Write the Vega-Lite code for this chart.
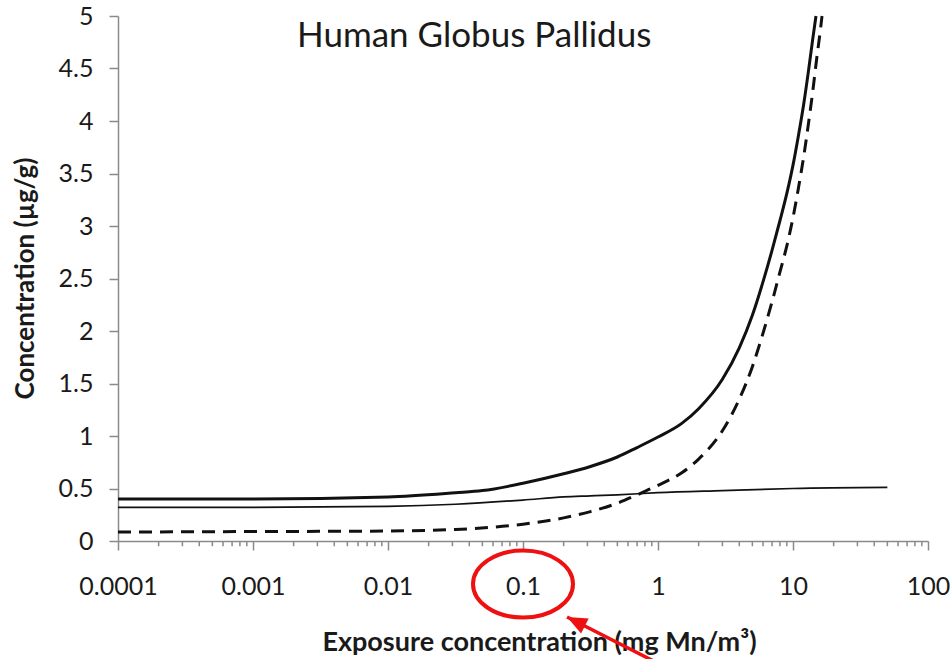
{
  "$schema": "https://vega.github.io/schema/vega-lite/v6.json",
  "width": 810,
  "height": 525,
  "autosize": {"type": "none"},
  "padding": {"left": 118, "top": 16, "right": 22, "bottom": 118},
  "background": "white",
  "title": {
    "text": "Human Globus Pallidus",
    "anchor": "start",
    "frame": "group",
    "font": "Lato",
    "fontSize": 35,
    "fontWeight": "normal",
    "color": "#1a1a1a",
    "baseline": "alphabetic",
    "dx": 179,
    "dy": 82
  },
  "config": {
    "view": {"stroke": null},
    "axis": {
      "grid": false,
      "domainColor": "#8a8a8a",
      "domainWidth": 1.5,
      "tickColor": "#8a8a8a",
      "tickWidth": 1.5,
      "labelFont": "Lato",
      "labelFontSize": 25,
      "labelColor": "#1a1a1a",
      "titleFont": "Lato",
      "titleFontWeight": "bold",
      "titleColor": "#1a1a1a"
    }
  },
  "datasets": {
    "curves": [
      {"series": "Total", "x": 0.0001, "y": 0.40},
      {"series": "Total", "x": 0.001, "y": 0.40},
      {"series": "Total", "x": 0.01, "y": 0.42},
      {"series": "Total", "x": 0.0316, "y": 0.46},
      {"series": "Total", "x": 0.05, "y": 0.48},
      {"series": "Total", "x": 0.1, "y": 0.55},
      {"series": "Total", "x": 0.2, "y": 0.64},
      {"series": "Total", "x": 0.316, "y": 0.71},
      {"series": "Total", "x": 0.5, "y": 0.80},
      {"series": "Total", "x": 0.7, "y": 0.89},
      {"series": "Total", "x": 1, "y": 0.99},
      {"series": "Total", "x": 1.5, "y": 1.12},
      {"series": "Total", "x": 2, "y": 1.26},
      {"series": "Total", "x": 3, "y": 1.54},
      {"series": "Total", "x": 4, "y": 1.84},
      {"series": "Total", "x": 5, "y": 2.15},
      {"series": "Total", "x": 6, "y": 2.47},
      {"series": "Total", "x": 7, "y": 2.77},
      {"series": "Total", "x": 8, "y": 3.05},
      {"series": "Total", "x": 9, "y": 3.31},
      {"series": "Total", "x": 10, "y": 3.58},
      {"series": "Total", "x": 11, "y": 3.87},
      {"series": "Total", "x": 12, "y": 4.16},
      {"series": "Total", "x": 13, "y": 4.47},
      {"series": "Total", "x": 14, "y": 4.78},
      {"series": "Total", "x": 14.8, "y": 5.0},
      {"series": "Free", "x": 0.0001, "y": 0.085},
      {"series": "Free", "x": 0.001, "y": 0.09},
      {"series": "Free", "x": 0.01, "y": 0.095},
      {"series": "Free", "x": 0.0316, "y": 0.11},
      {"series": "Free", "x": 0.1, "y": 0.16},
      {"series": "Free", "x": 0.2, "y": 0.22},
      {"series": "Free", "x": 0.316, "y": 0.28},
      {"series": "Free", "x": 0.5, "y": 0.36},
      {"series": "Free", "x": 0.7, "y": 0.44},
      {"series": "Free", "x": 1, "y": 0.53},
      {"series": "Free", "x": 1.5, "y": 0.65},
      {"series": "Free", "x": 2, "y": 0.78},
      {"series": "Free", "x": 3, "y": 1.05},
      {"series": "Free", "x": 4, "y": 1.35},
      {"series": "Free", "x": 5, "y": 1.66},
      {"series": "Free", "x": 6, "y": 1.98},
      {"series": "Free", "x": 7, "y": 2.28},
      {"series": "Free", "x": 8, "y": 2.56},
      {"series": "Free", "x": 9, "y": 2.81},
      {"series": "Free", "x": 10, "y": 3.08},
      {"series": "Free", "x": 11, "y": 3.37},
      {"series": "Free", "x": 12, "y": 3.66},
      {"series": "Free", "x": 13, "y": 3.97},
      {"series": "Free", "x": 14, "y": 4.28},
      {"series": "Free", "x": 15, "y": 4.6},
      {"series": "Free", "x": 16, "y": 4.88},
      {"series": "Free", "x": 16.4, "y": 5.0},
      {"series": "Bound", "x": 0.0001, "y": 0.32},
      {"series": "Bound", "x": 0.001, "y": 0.32},
      {"series": "Bound", "x": 0.01, "y": 0.33},
      {"series": "Bound", "x": 0.0316, "y": 0.35},
      {"series": "Bound", "x": 0.1, "y": 0.39},
      {"series": "Bound", "x": 0.2, "y": 0.42},
      {"series": "Bound", "x": 0.316, "y": 0.43},
      {"series": "Bound", "x": 0.5, "y": 0.44},
      {"series": "Bound", "x": 1, "y": 0.46},
      {"series": "Bound", "x": 3, "y": 0.48},
      {"series": "Bound", "x": 10, "y": 0.50},
      {"series": "Bound", "x": 50, "y": 0.51}
    ],
    "minorTicks": [
      {"x": 0.0002}, {"x": 0.0003}, {"x": 0.0004}, {"x": 0.0005}, {"x": 0.0006}, {"x": 0.0007}, {"x": 0.0008}, {"x": 0.0009},
      {"x": 0.002}, {"x": 0.003}, {"x": 0.004}, {"x": 0.005}, {"x": 0.006}, {"x": 0.007}, {"x": 0.008}, {"x": 0.009},
      {"x": 0.02}, {"x": 0.03}, {"x": 0.04}, {"x": 0.05}, {"x": 0.06}, {"x": 0.07}, {"x": 0.08}, {"x": 0.09},
      {"x": 0.2}, {"x": 0.3}, {"x": 0.4}, {"x": 0.5}, {"x": 0.6}, {"x": 0.7}, {"x": 0.8}, {"x": 0.9},
      {"x": 2}, {"x": 3}, {"x": 4}, {"x": 5}, {"x": 6}, {"x": 7}, {"x": 8}, {"x": 9},
      {"x": 20}, {"x": 30}, {"x": 40}, {"x": 50}, {"x": 60}, {"x": 70}, {"x": 80}, {"x": 90}
    ],
    "highlight": [
      {"note": "circled label", "x": 0.1, "y": -0.41}
    ],
    "arrow": [
      {"note": "pointer", "x": 0.95, "y": -1.15, "x2": 0.212, "y2": -0.724}
    ]
  },
  "layer": [
    {
      "data": {"name": "minorTicks"},
      "mark": {"type": "rule", "color": "#8a8a8a", "strokeWidth": 1.5},
      "encoding": {
        "x": {
          "field": "x",
          "type": "quantitative",
          "scale": {"type": "log", "domain": [0.0001, 100], "nice": false},
          "axis": {
            "title": "Exposure concentration (mg Mn/m³)",
            "values": [0.0001, 0.001, 0.01, 0.1, 1, 10, 100],
            "format": "~g",
            "tickSize": 9,
            "labelPadding": 24,
            "titlePadding": 30,
            "titleFontSize": 27,
            "titleX": 421,
            "labelFlush": false,
            "labelOverlap": false
          }
        },
        "y": {
          "datum": 0,
          "type": "quantitative",
          "scale": {"domain": [0, 5], "nice": false, "zero": true},
          "axis": {
            "title": "Concentration (µg/g)",
            "values": [0, 0.5, 1, 1.5, 2, 2.5, 3, 3.5, 4, 4.5, 5],
            "format": "~g",
            "tickSize": 9,
            "labelPadding": 16,
            "titleFontSize": 26,
            "titleX": -93,
            "titleY": 262,
            "titleAngle": -90,
            "titleAlign": "center",
            "titleBaseline": "middle",
            "labelFlush": false,
            "labelOverlap": false
          }
        },
        "y2": {"datum": -0.05}
      }
    },
    {
      "data": {"name": "curves"},
      "transform": [{"filter": "datum.series === 'Bound'"}],
      "mark": {"type": "line", "interpolate": "monotone", "color": "#111111", "strokeWidth": 1.7},
      "encoding": {
        "x": {"field": "x", "type": "quantitative"},
        "y": {"field": "y", "type": "quantitative"}
      }
    },
    {
      "data": {"name": "curves"},
      "transform": [{"filter": "datum.series === 'Free'"}],
      "mark": {"type": "line", "interpolate": "monotone", "color": "#111111", "strokeWidth": 3, "strokeDash": [13, 8]},
      "encoding": {
        "x": {"field": "x", "type": "quantitative"},
        "y": {"field": "y", "type": "quantitative"}
      }
    },
    {
      "data": {"name": "curves"},
      "transform": [{"filter": "datum.series === 'Total'"}],
      "mark": {"type": "line", "interpolate": "monotone", "color": "#111111", "strokeWidth": 3},
      "encoding": {
        "x": {"field": "x", "type": "quantitative"},
        "y": {"field": "y", "type": "quantitative"}
      }
    },
    {
      "data": {"name": "highlight"},
      "mark": {
        "type": "point",
        "shape": "M -1 0 A 1 0.67 0 1 1 1 0 A 1 0.67 0 1 1 -1 0 Z",
        "size": 10000,
        "filled": false,
        "stroke": "#ee1111",
        "strokeWidth": 4,
        "opacity": 1
      },
      "encoding": {
        "x": {"field": "x", "type": "quantitative"},
        "y": {"field": "y", "type": "quantitative"}
      }
    },
    {
      "data": {"name": "arrow"},
      "mark": {"type": "rule", "color": "#ee1111", "strokeWidth": 3.5},
      "encoding": {
        "x": {"field": "x", "type": "quantitative"},
        "y": {"field": "y", "type": "quantitative"},
        "x2": {"field": "x2"},
        "y2": {"field": "y2"}
      }
    },
    {
      "data": {"name": "arrow"},
      "mark": {
        "type": "point",
        "shape": "M 0 0 L -0.42 1 L 0.42 1 Z",
        "size": 1600,
        "filled": true,
        "color": "#ee1111",
        "opacity": 1,
        "angle": 297
      },
      "encoding": {
        "x": {"field": "x2", "type": "quantitative"},
        "y": {"field": "y2", "type": "quantitative"}
      }
    }
  ]
}
